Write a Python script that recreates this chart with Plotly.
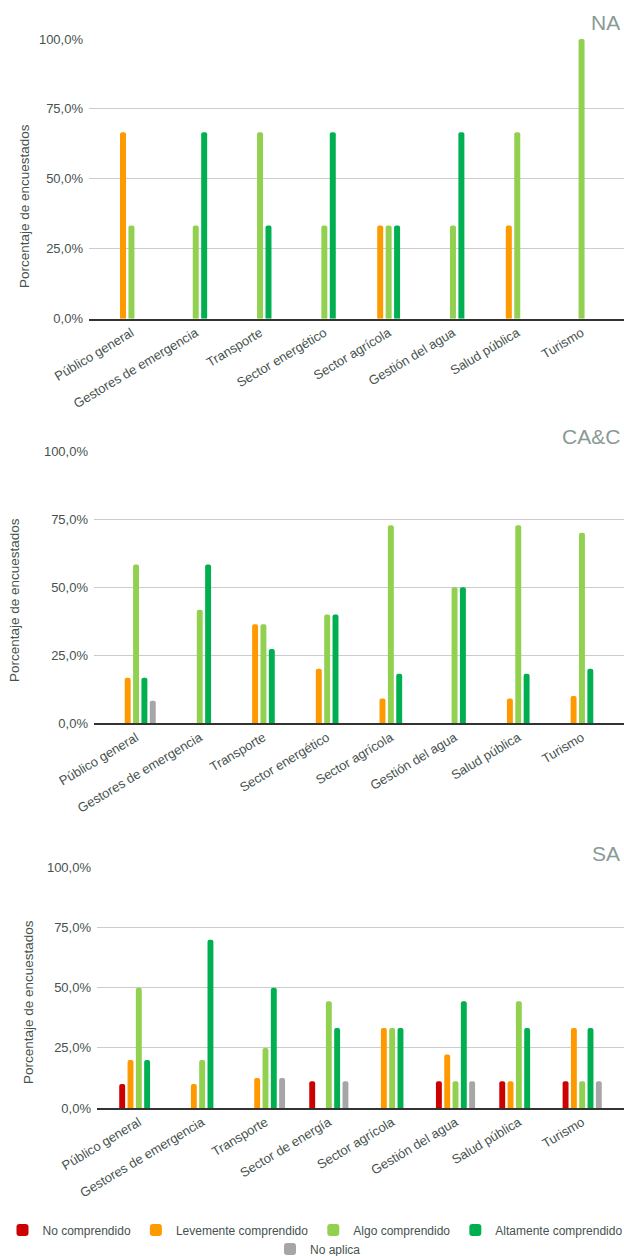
import plotly.graph_objects as go

W, H = 624, 1256

# ---------------- data ----------------
categories_na = ["Público general", "Gestores de emergencia", "Transporte", "Sector energético",
                 "Sector agrícola", "Gestión del agua", "Salud pública", "Turismo"]
categories_cac = ["Público general", "Gestores de emergencia", "Transporte", "Sector energético",
                  "Sector agrícola", "Gestión del agua", "Salud pública", "Turismo"]
categories_sa = ["Público general", "Gestores de emergencia", "Transporte", "Sector de energía",
                 "Sector agrícola", "Gestión del agua", "Salud pública", "Turismo"]

series_names = ["No comprendido", "Levemente comprendido", "Algo comprendido",
                "Altamente comprendido", "No aplica"]
series_colors = ["#cc0000", "#ff9900", "#92d050", "#00b050", "#a6a6a6"]

# NA
na_no = [None, None, None, None, None, None, None, None]
na_leve = [0.667, None, None, None, 0.333, None, 0.333, None]
na_algo = [0.333, 0.333, 0.667, 0.333, 0.333, 0.333, 0.667, 1.0]
na_alta = [None, 0.667, 0.333, 0.667, 0.333, 0.667, None, None]
na_noap = [None, None, None, None, None, None, None, None]

# CA&C
cac_no = [None, None, None, None, None, None, None, None]
cac_leve = [0.167, None, 0.364, 0.200, 0.091, None, 0.091, 0.100]
cac_algo = [0.583, 0.417, 0.364, 0.400, 0.727, 0.500, 0.727, 0.700]
cac_alta = [0.167, 0.583, 0.273, 0.400, 0.182, 0.500, 0.182, 0.200]
cac_noap = [0.083, None, None, None, None, None, None, None]

# SA
sa_no = [0.100, None, None, 0.111, None, 0.111, 0.111, 0.111]
sa_leve = [0.200, 0.100, 0.125, None, 0.333, 0.222, 0.111, 0.333]
sa_algo = [0.500, 0.200, 0.250, 0.444, 0.333, 0.111, 0.444, 0.111]
sa_alta = [0.200, 0.700, 0.500, 0.333, 0.333, 0.444, 0.333, 0.333]
sa_noap = [None, None, 0.125, 0.111, None, 0.111, None, 0.111]

panel_titles = ["NA", "CA&C", "SA"]
y_title = "Porcentaje de encuestados"
y_ticks = [0, 0.25, 0.5, 0.75, 1.0]

panels = [
    (categories_na, [na_no, na_leve, na_algo, na_alta, na_noap]),
    (categories_cac, [cac_no, cac_leve, cac_algo, cac_alta, cac_noap]),
    (categories_sa, [sa_no, sa_leve, sa_algo, sa_alta, sa_noap]),
]

# ---------------- layout geometry (pixels) ----------------
plot_left = [89, 94, 97]
plot_top = [39, 451, 867.5]
plot_bottom = [318.7, 723.3, 1108]
title_y = [23, 437, 853]
ytitle_x = [24, 14, 28]
ytitle_y = [206, 600, 1002]

def px_x(x):
    return x / W

def px_y(y):
    return 1 - y / H

text_color = "#46524e"
font_family = "Liberation Sans, Arial, sans-serif"

fig = go.Figure()

for p, (cats, vals) in enumerate(panels):
    sfx = "" if p == 0 else str(p + 1)
    for s in range(5):
        fig.add_trace(go.Bar(
            x=cats, y=vals[s], name=series_names[s],
            marker=dict(color=series_colors[s], line=dict(width=0)),
            xaxis="x" + sfx, yaxis="y" + sfx,
            showlegend=(p == 2),
            legend="legend" if s < 4 else "legend2",
        ))

layout = dict(
    width=W, height=H,
    margin=dict(l=0, r=0, t=0, b=0, autoexpand=False),
    paper_bgcolor="white", plot_bgcolor="white",
    barmode="group", bargap=0.344, bargroupgap=0.29,
    barcornerradius=2,
    separators=",.",
    font=dict(family=font_family, size=13, color=text_color),
    legend=dict(orientation="h", x=px_x(315), xanchor="center",
                y=px_y(1230), yanchor="middle",
                font=dict(size=12, color=text_color), itemwidth=30,
                bgcolor="rgba(0,0,0,0)"),
    legend2=dict(orientation="h", x=px_x(318), xanchor="center",
                 y=px_y(1249), yanchor="middle",
                 font=dict(size=12, color=text_color), itemwidth=30,
                 bgcolor="rgba(0,0,0,0)"),
)

annotations = []
for p in range(3):
    sfx = "" if p == 0 else str(p + 1)
    layout["xaxis" + sfx] = dict(
        domain=[px_x(plot_left[p]), 1.0],
        anchor="y" + sfx,
        type="category",
        range=[-0.66, 7.66],
        tickangle=-31,
        tickfont=dict(size=13, color=text_color),
        showgrid=False, zeroline=False,
        showline=True, linecolor="#333333", linewidth=1.5,
        ticks="",
    )
    layout["yaxis" + sfx] = dict(
        domain=[px_y(plot_bottom[p]), px_y(plot_top[p])],
        anchor="x" + sfx,
        range=[0, 1.0],
        tickvals=y_ticks,
        tickformat=".1%",
        tickfont=dict(size=13, color=text_color),
        showgrid=True, gridcolor="#cccccc", gridwidth=1,
        zeroline=False, showline=False, ticks="",
        ticklabelstandoff=5,
    )
    annotations.append(dict(
        text=panel_titles[p], xref="paper", yref="paper",
        x=px_x(622), y=px_y(title_y[p]), xanchor="right", yanchor="middle",
        showarrow=False, font=dict(size=21, color="#8a9a95", family=font_family),
    ))
    annotations.append(dict(
        text=y_title, xref="paper", yref="paper",
        x=px_x(ytitle_x[p]), y=px_y(ytitle_y[p]), xanchor="center", yanchor="middle",
        textangle=-90, showarrow=False,
        font=dict(size=13.5, color=text_color, family=font_family),
    ))

layout["annotations"] = annotations
fig.update_layout(**layout)

fig.write_html("out.html")
